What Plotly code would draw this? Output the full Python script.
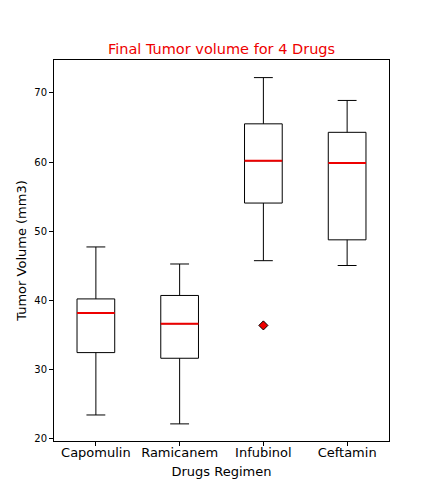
import plotly.graph_objects as go

# Drugs and box statistics (final tumor volume, mm3)
drugs = ['Capomulin', 'Ramicanem', 'Infubinol', 'Ceftamin']
q1_vals = [32.38, 31.56, 54.05, 48.72]
median_vals = [38.13, 36.56, 60.17, 59.85]
q3_vals = [40.16, 40.66, 65.53, 64.30]
low_whisker = [23.34, 22.05, 45.70, 45.00]
high_whisker = [47.69, 45.22, 72.23, 68.92]

outlier_drugs = ['Infubinol']
outlier_vals = [36.32]

font_family = 'DejaVu Sans'

fig = go.Figure()

# boxes + whiskers
fig.add_trace(go.Box(
    x=drugs, q1=q1_vals, median=median_vals, q3=q3_vals,
    lowerfence=low_whisker, upperfence=high_whisker,
    width=0.45, whiskerwidth=0.5,
    line=dict(color='black', width=1),
    fillcolor='rgba(0,0,0,0)',
    showlegend=False, hoverinfo='skip'
))

# red median lines (degenerate boxes at the median)
fig.add_trace(go.Box(
    x=drugs, q1=median_vals, median=median_vals, q3=median_vals,
    lowerfence=median_vals, upperfence=median_vals,
    width=0.45, whiskerwidth=0,
    line=dict(color='#ee0000', width=2),
    fillcolor='rgba(0,0,0,0)',
    showlegend=False, hoverinfo='skip'
))

# outlier
fig.add_trace(go.Scatter(
    x=outlier_drugs, y=outlier_vals, mode='markers',
    marker=dict(symbol='diamond', size=7, color='#ee0000',
                line=dict(color='black', width=1)),
    showlegend=False, hoverinfo='skip'
))

fig.update_layout(
    width=432, height=504,
    paper_bgcolor='white', plot_bgcolor='white',
    margin=dict(l=46, r=51, t=52, b=71),
    boxmode='overlay',
    font=dict(family=font_family, color='black', size=10),
    title=dict(text='Final Tumor volume for 4 Drugs',
               font=dict(family=font_family, size=14.5, color='#ee0000'),
               x=(46 + 381) / 2 / 432, xanchor='center',
               y=1 - 41 / 504, yanchor='middle'),
)

fig.update_xaxes(
    showline=True, linecolor='black', linewidth=1, mirror=True,
    ticks='outside', ticklen=4, tickcolor='black',
    showgrid=False, zeroline=False, automargin=False,
    tickfont=dict(size=13), ticklabelstandoff=-5,
    title=dict(text='Drugs Regimen', font=dict(size=13), standoff=8),
    range=[-0.5, 3.5],
)

fig.update_yaxes(
    showline=True, linecolor='black', linewidth=1, mirror=True,
    ticks='outside', ticklen=4, tickcolor='black',
    showgrid=False, zeroline=False, automargin=False,
    tickvals=[20, 30, 40, 50, 60, 70],
    tickfont=dict(size=10),
    title=dict(text='Tumor Volume (mm3)', font=dict(size=13), standoff=4),
    range=[19.57, 74.78],
)

fig.write_html('out.html')
